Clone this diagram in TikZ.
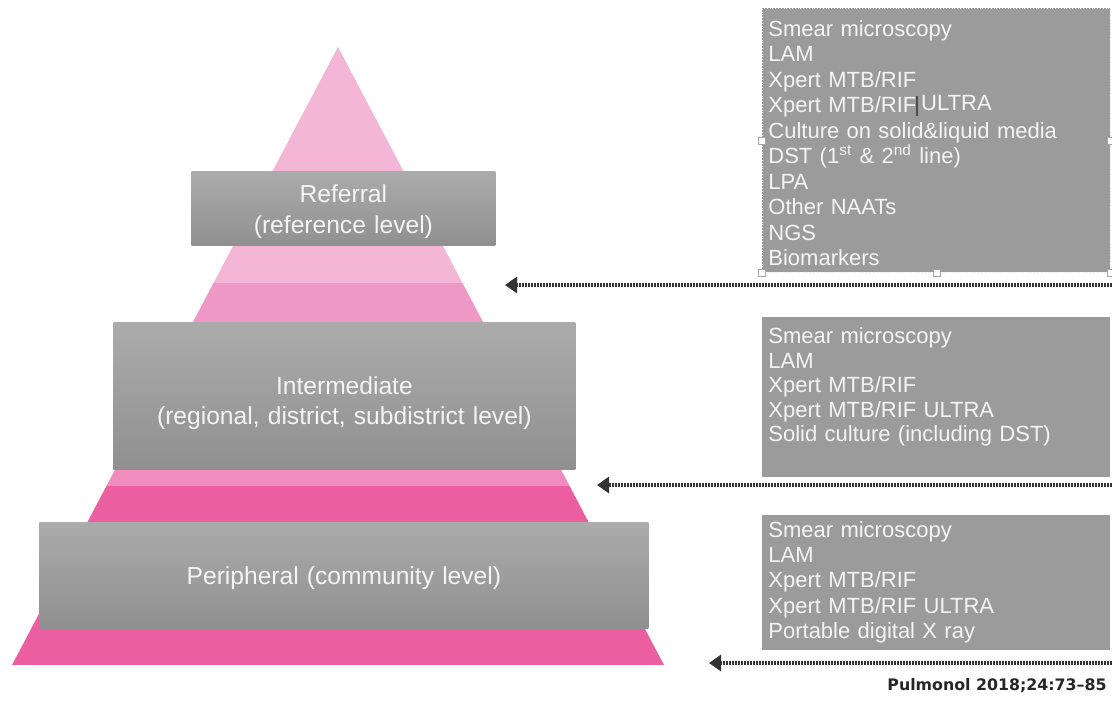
\documentclass[tikz,border=0pt]{standalone}
\usepackage{fontspec}
\setmainfont{Liberation Sans}
\newfontfamily\citefont{DejaVu Sans}
\usepackage{tikz}
\usepackage{xcolor}
\usetikzlibrary{arrows.meta}

\definecolor{pinklight}{HTML}{F3B6D7}
\definecolor{pinkmid}{HTML}{EE98C5}
\definecolor{pinkmidlow}{HTML}{F08CBE}
\definecolor{pinkdeep}{HTML}{EB5FA0}
\definecolor{levtop}{HTML}{ABABAB}
\definecolor{levbot}{HTML}{909090}
\definecolor{boxgray}{HTML}{9B9B9B}
\definecolor{boxtext}{HTML}{F4F4F4}
\definecolor{arrowgray}{HTML}{333333}

\begin{document}
\begin{tikzpicture}[x=0.5pt, y=-0.5pt]
    % Styles
    \tikzstyle{level} = [rectangle, top color=levtop, bottom color=levbot, text=boxtext, align=center, inner sep=0pt, font=\fontsize{12.3}{15.5}\selectfont]
    \tikzstyle{tests} = [rectangle, fill=boxgray, text=boxtext, anchor=north west, text width=168pt, inner xsep=3pt, inner ysep=0pt, align=left]
    \tikzstyle{handle} = [rectangle, draw=gray!70, fill=white, line width=0.4pt, minimum size=3.5pt, inner sep=0pt]
    \tikzstyle{arrow} = [line width=2pt, arrowgray, dash pattern=on 0.9pt off 0.6pt, -{Triangle[length=6pt,width=8pt]}]
    \tikzstyle{citation} = [font=\citefont\bfseries\fontsize{7.9}{9}\selectfont, text=black!85]

    \useasboundingbox (0,0) rectangle (1112,702);

    % Pyramid
    \begin{scope}
        \clip (338,47) -- (664,665) -- (12,665) -- cycle;
        \fill[pinklight] (0,0) rectangle (700,283);
        \fill[pinkmid] (0,283) rectangle (700,322);
        \fill[pinkmidlow] (0,469) rectangle (700,486);
        \fill[pinkdeep] (0,486) rectangle (700,665);
    \end{scope}

    % Nodes
    \node [level, anchor=north west, text width=152pt, text height=15.5pt, text depth=21.5pt] (referral) at (191,171) {Referral\\(reference level)};
    \node [level, anchor=north west, text width=231pt, text height=36pt, text depth=37.5pt, font=\fontsize{12.3}{15}\selectfont] (intermediate) at (113,322) {Intermediate\\(regional, district, subdistrict level)};
    \node [level, anchor=north west, text width=304.5pt, text height=31pt, text depth=22pt] (peripheral) at (39,522) {Peripheral (community level)};

    \node [tests, text height=14pt, text depth=118pt, font=\fontsize{11}{12.75}\selectfont, draw=white!80!gray, densely dotted] (reftests) at (762,8) {Smear microscopy\\LAM\\Xpert MTB/RIF\\Xpert MTB/RIF{\color{black!70}\rule[-1.5pt]{0.6pt}{10pt}}\,\raisebox{1.2pt}{ULTRA}\\Culture on solid\&liquid media\\DST (1\textsuperscript{st} \& 2\textsuperscript{nd} line)\\LPA\\Other NAATs\\NGS\\Biomarkers};
    \node [tests, text height=13pt, text depth=67pt, font=\fontsize{11}{12.3}\selectfont] (midtests) at (762,317) {Smear microscopy\\LAM\\Xpert MTB/RIF\\Xpert MTB/RIF ULTRA\\Solid culture (including DST)};
    \node [tests, text height=11pt, text depth=56.5pt, font=\fontsize{11}{12.6}\selectfont] (pertests) at (762,515) {Smear microscopy\\LAM\\Xpert MTB/RIF\\Xpert MTB/RIF ULTRA\\Portable digital X ray};

    \foreach \a in {west,south west,south,south east,east}
        \node [handle] (grip-\a) at (reftests.\a) {};

    \node [citation] (cite) at (997,686) {Pulmonol 2018;24:73–85};

    % Arrows
    \coordinate (refend) at (1112,285);
    \coordinate (reftip) at (505,285);
    \coordinate (midend) at (1112,485);
    \coordinate (midtip) at (597,485);
    \coordinate (perend) at (1112,663);
    \coordinate (pertip) at (709,663);

    \draw [arrow] (refend) -- (reftip);
    \draw [arrow] (midend) -- (midtip);
    \draw [arrow] (perend) -- (pertip);
\end{tikzpicture}
\end{document}
